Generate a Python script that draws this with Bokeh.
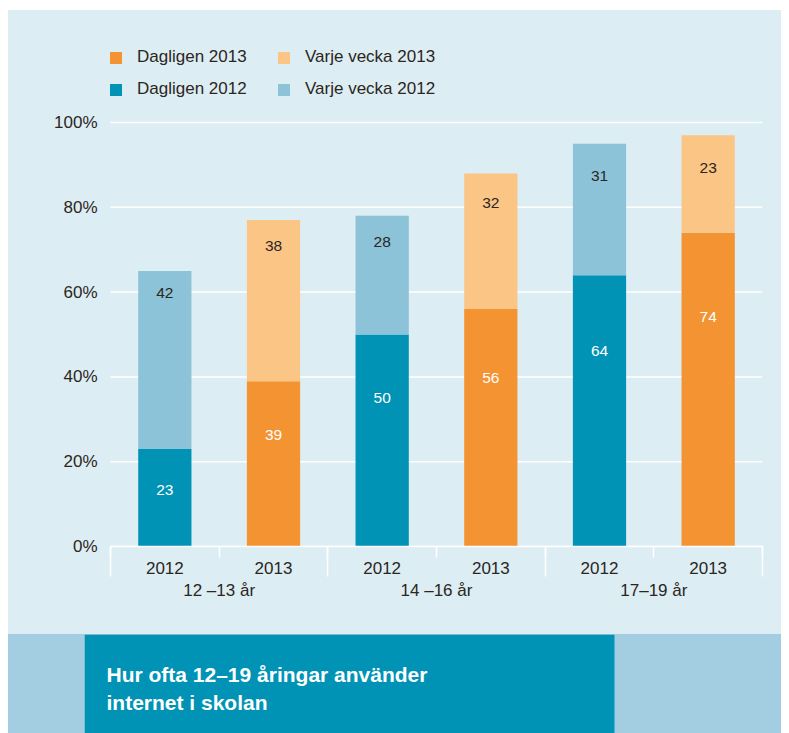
from bokeh.plotting import figure
from bokeh.models import (ColumnDataSource, FixedTicker, LinearAxis, Legend,
                          LegendItem, PrintfTickFormatter, Range1d)
from bokeh.layouts import column
from bokeh.embed import file_html
from bokeh.resources import INLINE
from bokeh.core.properties import value

# ---------------- data ----------------
groups = ["12 –13 år", "14 –16 år", "17–19 år"]
years = ["2012", "2013"]
daily_2012 = [23, 50, 64]
weekly_2012 = [42, 28, 31]
daily_2013 = [39, 56, 74]
weekly_2013 = [38, 32, 23]
legend_labels = ["Dagligen 2013", "Varje vecka 2013", "Dagligen 2012", "Varje vecka 2012"]
y_ticks = [0, 20, 40, 60, 80, 100]
title_lines = ["Hur ofta 12–19 åringar använder", "internet i skolan"]

# ---------------- style ----------------
FONT = "Liberation Sans"
TXT = "#2b2621"
BG = "#ddedf4"
TEAL = "#0093b5"
LTEAL = "#8cc3d8"
ORANGE = "#f39331"
LORANGE = "#fbc585"
BAND = "#a3cde0"
BAR_W = 0.49

n = len(groups)
x12 = [2 * g + 0.5 for g in range(n)]
x13 = [2 * g + 1.5 for g in range(n)]

# geometry (pixels)
W = 773
H1 = 624
H2 = 99
FRAME_L = 76          # frame starts where the title box starts
DATA_L_OFF = 26       # category area starts 26px right of frame left
FRAME_W = W - FRAME_L - 19
PX_X = (FRAME_W - DATA_L_OFF) / (2 * n)
TOP_B = 20
BOT_B = 88
FRAME_H = H1 - TOP_B - BOT_B
PX_Y = 4.24
y_end = FRAME_H / PX_Y

p = figure(width=W, height=H1,
           x_range=Range1d(-DATA_L_OFF / PX_X, 2 * n), y_range=Range1d(0, y_end),
           output_backend="svg", toolbar_location=None,
           min_border_left=FRAME_L, min_border_right=19, min_border_top=TOP_B, min_border_bottom=BOT_B)
p.background_fill_color = None
p.border_fill_color = None
p.styles = {"background-color": BG}
p.outline_line_color = None
p.grid.grid_line_color = None

# horizontal grid lines spanning only the category area
p.segment(x0=[0] * len(y_ticks), x1=[2 * n] * len(y_ticks), y0=y_ticks, y1=y_ticks,
          line_color="white", line_width=1.5, level="underlay")

def stack_source(xs, daily, weekly):
    tops = [d + w for d, w in zip(daily, weekly)]
    return ColumnDataSource(dict(
        x=xs, daily=daily, weekly=weekly, top=tops,
        dly=[0.8 * d - 5 for d in daily],
        wly=[0.92 * t for t in tops],
        dtxt=[str(d) for d in daily], wtxt=[str(w) for w in weekly]))

s12 = stack_source(x12, daily_2012, weekly_2012)
s13 = stack_source(x13, daily_2013, weekly_2013)

r_d12 = p.vbar(x="x", bottom=0, top="daily", width=BAR_W, source=s12, fill_color=TEAL, line_color=None)
r_w12 = p.vbar(x="x", bottom="daily", top="top", width=BAR_W, source=s12, fill_color=LTEAL, line_color=None)
r_d13 = p.vbar(x="x", bottom=0, top="daily", width=BAR_W, source=s13, fill_color=ORANGE, line_color=None)
r_w13 = p.vbar(x="x", bottom="daily", top="top", width=BAR_W, source=s13, fill_color=LORANGE, line_color=None)

for s in (s12, s13):
    p.text(x="x", y="dly", text="dtxt", source=s, text_color="white",
           text_font=value(FONT), text_font_size="15.5px", text_align="center", text_baseline="middle")
    p.text(x="x", y="wly", text="wtxt", source=s, text_color=TXT,
           text_font=value(FONT), text_font_size="15.5px", text_align="center", text_baseline="middle")

# ---------------- y axis ----------------
ya = p.yaxis[0]
ya.ticker = FixedTicker(ticks=y_ticks)
ya.formatter = PrintfTickFormatter(format="%d%%")
ya.axis_line_color = None
ya.major_tick_line_color = None
ya.minor_tick_line_color = None
ya.major_tick_out = 0
ya.major_tick_in = 0
ya.major_label_standoff = -(DATA_L_OFF - 13)
ya.major_label_text_font = FONT
ya.major_label_text_font_size = "17px"
ya.major_label_text_color = TXT

# ---------------- x axis (years) ----------------
year_ticks = sorted(x12 + x13)
xa = p.xaxis[0]
xa.bounds = (0, 2 * n)
xa.ticker = FixedTicker(ticks=year_ticks, minor_ticks=list(range(2 * n + 1)))
xa.major_label_overrides = {t: years[i % 2] for i, t in enumerate(year_ticks)}
xa.axis_line_color = "white"
xa.axis_line_width = 1.5
xa.major_tick_line_color = None
xa.major_tick_out = 6
xa.major_tick_in = 0
xa.minor_tick_line_color = "white"
xa.minor_tick_line_width = 1.5
xa.minor_tick_out = 11
xa.minor_tick_in = 0
xa.major_label_standoff = 4
xa.major_label_text_font = FONT
xa.major_label_text_font_size = "17px"
xa.major_label_text_color = TXT

# ---------------- x axis (groups) ----------------
group_ticks = [2 * g + 1 for g in range(n)]
xb = LinearAxis(ticker=FixedTicker(ticks=group_ticks, minor_ticks=[2 * g for g in range(n + 1)]))
xb.bounds = (0, 2 * n)
xb.major_label_overrides = {t: groups[i] for i, t in enumerate(group_ticks)}
xb.axis_line_color = None
xb.major_tick_line_color = None
xb.major_tick_out = 0
xb.major_tick_in = 0
xb.minor_tick_line_color = "white"
xb.minor_tick_line_width = 1.5
xb.minor_tick_in = 30
xb.minor_tick_out = 0
xb.major_label_standoff = 4
xb.major_label_text_font = FONT
xb.major_label_text_font_size = "17px"
xb.major_label_text_color = TXT
p.add_layout(xb, "below")

# ---------------- legends (inside the extended frame) ----------------
def make_legend(items, loc):
    return Legend(items=items, orientation="horizontal", location=loc,
                  glyph_width=15, glyph_height=15, label_standoff=14, label_width=115,
                  label_height=15, spacing=24, padding=0, margin=0,
                  background_fill_alpha=0, border_line_color=None,
                  label_text_font=FONT, label_text_font_size="17px", label_text_color=TXT)

lg1 = make_legend([LegendItem(label=legend_labels[0], renderers=[r_d13]),
                   LegendItem(label=legend_labels[1], renderers=[r_w13])], (24, 479))
lg2 = make_legend([LegendItem(label=legend_labels[2], renderers=[r_d12]),
                   LegendItem(label=legend_labels[3], renderers=[r_w12])], (24, 447))
p.add_layout(lg1, "center")
p.add_layout(lg2, "center")

# ---------------- bottom band ----------------
p2 = figure(width=W, height=H2, x_range=Range1d(0, FRAME_W), y_range=Range1d(0, H2),
            output_backend="svg", toolbar_location=None,
            min_border_left=FRAME_L, min_border_right=19, min_border_top=0, min_border_bottom=0)
p2.axis.visible = False
p2.grid.visible = False
p2.outline_line_color = None
p2.background_fill_color = None
p2.border_fill_color = None
p2.styles = {"background-color": BAND}
p2.quad(left=[0], right=[530], bottom=[0], top=[H2], fill_color=TEAL, line_color=None)
p2.text(x=[22, 22], y=[59, 31], text=title_lines, text_color="white",
        text_font=value(FONT), text_font_size="21px", text_font_style="bold",
        text_baseline="middle", text_align="left")

layout = column(p, p2, spacing=0, margin=(10, 0, 0, 8))
open("out.html", "w").write(file_html(layout, INLINE))
